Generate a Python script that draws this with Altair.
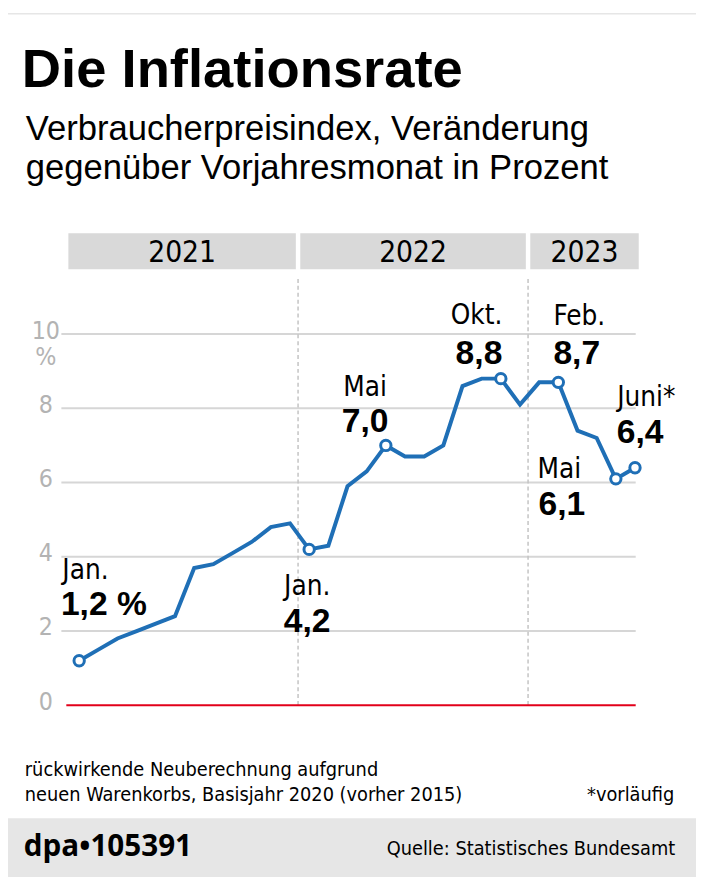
import altair as alt
import pandas as pd

# ---------------- data ----------------
month_index = list(range(30))
month_names = ["Jan", "Feb", "Mär", "Apr", "Mai", "Jun", "Jul", "Aug", "Sep", "Okt", "Nov", "Dez"] * 2 + \
              ["Jan", "Feb", "Mär", "Apr", "Mai", "Jun"]
rate = [1.2, 1.5, 1.8, 2.0, 2.2, 2.4, 3.7, 3.8, 4.1, 4.4, 4.8, 4.9,
        4.2, 4.3, 5.9, 6.3, 7.0, 6.7, 6.7, 7.0, 8.6, 8.8, 8.8, 8.1,
        8.7, 8.7, 7.4, 7.2, 6.1, 6.4]
marked_months = [0, 12, 16, 22, 25, 28, 29]

years = ["2021", "2022", "2023"]
year_start = [-0.68, 11.42, 23.42]
year_end = [11.42, 23.42, 29.31]
year_bounds = [11.42, 23.42]

y_ticks = [0, 2, 4, 6, 8, 10]
y_tick_labels = ["0", "2", "4", "6", "8", "10"]

ann_month = [0, 12, 16, 22, 25, 28, 29]
ann_label = ["Jan.", "Jan.", "Mai", "Okt.", "Feb.", "Mai", "Juni*"]
ann_value = ["1,2 %", "4,2", "7,0", "8,8", "8,7", "6,1", "6,4"]

# ---------------- styles ----------------
NARROW = "DejaVu Sans Condensed, Liberation Sans Narrow, sans-serif"
SANS = "Liberation Sans, Arial, sans-serif"
DPA = "Open Sans, Liberation Sans, sans-serif"
BLUE = "#1f6fb6"
RED = "#e2001a"
GRID = "#d6d6d6"
BOX = "#d9d9d9"
BAR = "#e6e6e6"
LABEL_GRAY = "#b3b3b3"

W, H = 696, 874

# (align, dx label, dx value, dy label, dy value)
ann_style = [
    ("left", -17, -18.5, -83, -46),
    ("center", -2, -2, 46, 84),
    ("center", -21, -21, -50.5, -13.5),
    ("right", 1.5, 1.5, -55, -15),
    ("left", -5, -5, -57.6, -18.6),
    ("right", -35, -31, -1, 37),
    ("left", -18, -18.5, -62, -25),
]

xs = alt.Scale(domain=[0, 29], range=[72, 634.3], nice=False, zero=False)
ys = alt.Scale(domain=[0, 10], range=[700.3, 324.8], nice=False, zero=False)

df = pd.DataFrame({"m": month_index, "v": rate, "name": month_names})
df_marked = df[df["m"].isin(marked_months)]
one = pd.DataFrame({"a": [0]})


def X(field):
    return alt.X(f"{field}:Q", scale=xs, axis=None)


def Y(field):
    return alt.Y(f"{field}:Q", scale=ys, axis=None)


def txt(s, x, y, size, font=NARROW, weight="normal", align="left", color="#000000"):
    return alt.Chart(one).mark_text(
        text=s, fontSize=size, font=font, fontWeight=weight, align=align,
        baseline="alphabetic", color=color
    ).encode(x=alt.value(x), y=alt.value(y))


layers = []

# top strip
layers.append(alt.Chart(one).mark_rect(color=BAR).encode(
    x=alt.value(0), x2=alt.value(W), y=alt.value(0), y2=alt.value(1.5)))

# title / subtitle
layers.append(txt("Die Inflationsrate", 14, 74.7, 55, font=SANS, weight="bold"))
layers.append(txt("Verbraucherpreisindex, Veränderung", 18, 128.7, 35, font=SANS))
layers.append(txt("gegenüber Vorjahresmonat in Prozent", 18, 168, 35, font=SANS))

# year header boxes
yr = pd.DataFrame({"year": years, "s": year_start, "e": year_end})
yr["c"] = (yr["s"] + yr["e"]) / 2
layers.append(alt.Chart(yr).mark_rect(color=BOX, xOffset=2.25, x2Offset=-2.25).encode(
    x=X("s"), x2="e:Q", y=alt.value(222.7), y2=alt.value(259.3)))
layers.append(alt.Chart(yr).mark_text(font=NARROW, fontSize=30, baseline="alphabetic", color="#000000").encode(
    x=X("c"), y=alt.value(252.3), text="year:N"))

# gridlines
layers.append(alt.Chart(pd.DataFrame({"t": y_ticks[1:]})).mark_rule(color=GRID, strokeWidth=2).encode(
    y=Y("t"), x=alt.value(54), x2=alt.value(635)))

# year separators
layers.append(alt.Chart(pd.DataFrame({"b": year_bounds})).mark_rule(
    color="#c4c4c4", strokeWidth=1.5, strokeDash=[4, 3]).encode(
    x=X("b"), y=alt.value(269), y2=alt.value(700)))

# zero line
layers.append(alt.Chart(pd.DataFrame({"t": [0]})).mark_rule(color=RED, strokeWidth=2.2).encode(
    y=Y("t"), x=alt.value(59), x2=alt.value(635)))

# y labels
layers.append(alt.Chart(pd.DataFrame({"t": y_ticks, "lab": y_tick_labels})).mark_text(
    font=NARROW, fontSize=25, color=LABEL_GRAY, align="center", baseline="alphabetic", dy=4.5).encode(
    y=Y("t"), x=alt.value(38.3), text="lab:N"))
layers.append(alt.Chart(pd.DataFrame({"t": [10]})).mark_text(
    text="%", font=NARROW, fontSize=25, color=LABEL_GRAY, align="center", baseline="alphabetic", dy=31.7).encode(
    y=Y("t"), x=alt.value(38.3)))

# data line + markers
layers.append(alt.Chart(df).mark_line(color=BLUE, strokeWidth=4, strokeJoin="miter").encode(
    x=X("m"), y=Y("v")))
layers.append(alt.Chart(df_marked).mark_point(
    shape="circle", filled=True, fill="white", stroke=BLUE, strokeWidth=3, size=110, opacity=1).encode(
    x=X("m"), y=Y("v")))

# annotations
for m, lab, val, (al, dxl, dxv, dyl, dyv) in zip(ann_month, ann_label, ann_value, ann_style):
    pt = pd.DataFrame({"m": [m], "v": [rate[m]]})
    layers.append(alt.Chart(pt).mark_text(
        text=lab, font=NARROW, fontSize=28, align=al, baseline="alphabetic",
        dx=dxl, dy=dyl, color="#000000").encode(x=X("m"), y=Y("v")))
    layers.append(alt.Chart(pt).mark_text(
        text=val, font=SANS, fontSize=34, fontWeight="bold", align=al, baseline="alphabetic",
        dx=dxv, dy=dyv, color="#000000").encode(x=X("m"), y=Y("v")))

# footnotes
layers.append(txt("rückwirkende Neuberechnung aufgrund", 17, 772, 20))
layers.append(txt("neuen Warenkorbs, Basisjahr 2020 (vorher 2015)", 17, 797, 20))
layers.append(txt("*vorläufig", 674, 797, 20, align="right"))

# bottom bar
layers.append(alt.Chart(one).mark_rect(color=BAR).encode(
    x=alt.value(0), x2=alt.value(W), y=alt.value(814.7), y2=alt.value(H)))
layers.append(txt("dpa\u2022105391", 16, 853, 30, font=DPA, weight="bold"))
layers.append(txt("Quelle: Statistisches Bundesamt", 675, 852, 20, align="right"))

chart = alt.layer(*layers).properties(
    width=W, height=H, autosize=alt.AutoSizeParams(type="none"), padding=0
).configure_view(strokeWidth=0)

chart.save("out.html", embed_options={"renderer": "svg", "actions": False})
